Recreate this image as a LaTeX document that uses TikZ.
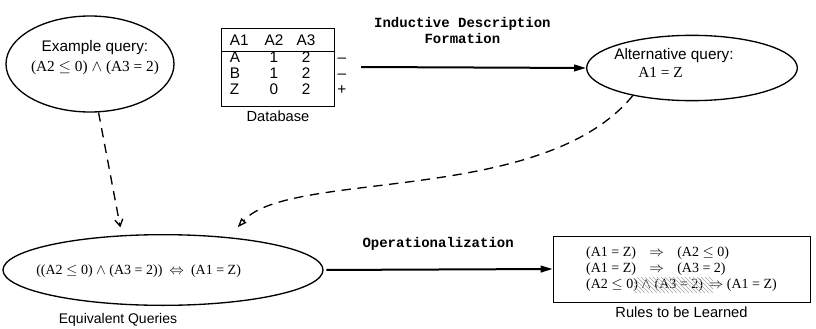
\documentclass[tikz,border=0pt]{standalone}
\usepackage{fontspec}
\setmainfont{Liberation Serif}
\setsansfont{Liberation Sans}
\setmonofont{Liberation Mono}
\usetikzlibrary{shapes.geometric,arrows.meta,patterns,positioning}

\begin{document}
\begin{tikzpicture}[x=0.75pt,y=-0.75pt,
    query/.style={draw, ellipse, line width=1pt, inner sep=0pt},
    qtext/.style={font=\fontsize{11.5}{13}\selectfont, align=left, inner sep=0pt},
    caption/.style={font=\sffamily\fontsize{11}{13}\selectfont},
    stepname/.style={font=\ttfamily\bfseries\fontsize{10.5}{11.5}\selectfont, align=center},
    flow/.style={line width=1.5pt, -{Triangle[length=9pt,width=5pt]}},
    hint/.style={line width=1pt, dash pattern=on 7pt off 5pt}]
    \useasboundingbox (0,0) rectangle (816,328);

    % queries
    \node[query, minimum width=126pt, minimum height=72pt] (ex) at (90,64) {};
    \node[qtext, align=center] (extext) at (95,58) {{\sffamily Example query:}\\[2pt](A2 $\le$ 0) $\wedge$ (A3 = 2)};

    \node[query, minimum width=158pt, minimum height=49pt] (alt) at (692,68) {};
    \node[qtext, anchor=west] (alttext) at (614,63) {{\sffamily Alternative query:}\\[1pt]\hspace*{18pt}A1 = Z};

    \node[query, minimum width=240pt, minimum height=53pt] (equiv) at (163,270) {};
    \node[qtext, anchor=west, font=\fontsize{10.5}{13}\selectfont] (equivtext) at (36,271) {((A2 $\le$ 0) $\wedge$ (A3 = 2))\enspace$\Leftrightarrow$\enspace(A1 = Z)};
    \node[caption, font=\sffamily\fontsize{10.5}{13}\selectfont] (equivname) at (118,320) {Equivalent Queries};

    % database
    \node[draw, line width=0.6pt, inner xsep=0pt, inner ysep=5pt, font=\sffamily\fontsize{11.5}{12}\selectfont] (db) at (278,67) {%
        \begin{tabular}{@{\hspace{6pt}}l@{\hspace{12pt}}c@{\hspace{10pt}}c@{\hspace{14pt}}}
            A1 & A2 & A3\\ \hline
            A & 1 & 2\\
            B & 1 & 2\\
            Z & 0 & 2
        \end{tabular}};
    \node[anchor=south west, inner xsep=2pt, inner ysep=5pt, font=\sffamily\fontsize{11.5}{12}\selectfont] (signs) at (db.south east) {%
        \begin{tabular}{@{}c@{}}--\\--\\+\end{tabular}};
    \node[caption, below=0pt of db] (dbname) {Database};

    % rules
    \node[draw, line width=0.6pt, minimum width=192.75pt, minimum height=49.5pt, font=\fontsize{10.5}{12}\selectfont] (rules) at (681.5,269) {%
        \begin{tabular}{@{}l@{\hspace{10pt}}c@{\hspace{10pt}}l@{}}
            (A1 = Z) & $\Rightarrow$ & (A2 $\le$ 0)\\
            (A1 = Z) & $\Rightarrow$ & (A3 = 2)\\
            \multicolumn{3}{@{}l@{}}{(A2 $\le$ 0) $\wedge$ (A3 = 2) \,$\Rightarrow$ (A1 = Z)}
        \end{tabular}};
    \fill[pattern=north west lines, pattern color=black!35] (634,277) rectangle (713,292);
    \node[caption, below=0pt of rules] (rulesname) {Rules to be Learned};

    % connectors
    \draw[flow] ([xshift=20pt]db.east) -- (alt.west)
        node[stepname, pos=0.45, above=14pt] {Inductive Description\\Formation};
    \draw[flow, shorten <=2pt] (equiv.east) -- (rules.west)
        node[stepname, midway, above=10pt] {Operationalization};
    \draw[hint, -{Straight Barb[length=5pt,width=6pt]}] (ex.-80) -- ([xshift=-32pt,yshift=5pt]equiv.north);
    \draw[hint, -{Triangle[open,length=7pt,width=5pt]}] (alt.205)
        .. controls +(-90,110) and +(52,-58) .. ([xshift=56pt,yshift=5pt]equiv.north);
\end{tikzpicture}
\end{document}
